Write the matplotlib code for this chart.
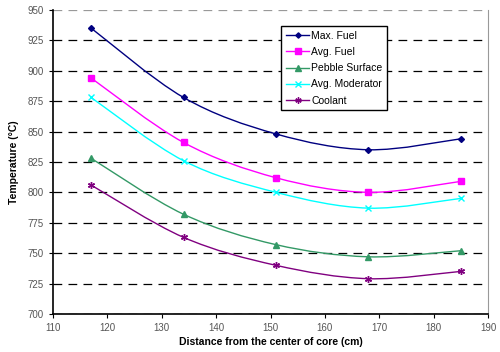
import matplotlib
matplotlib.use("Agg")
import matplotlib.pyplot as plt
from matplotlib.path import Path
from matplotlib.patches import PathPatch
from matplotlib.lines import Line2D

plt.rcParams['font.family'] = ['Liberation Sans', 'DejaVu Sans']

# veriler
mesafe = [117, 134, 151, 168, 185]
max_fuel = [935, 878, 848, 835, 844]
avg_fuel = [894, 841, 812, 800, 809]
pebble = [828, 782, 757, 747, 752]
avg_mod = [878, 826, 800, 787, 795]
coolant = [806, 763, 740, 729, 735]

seriler = [
    ("Max. Fuel", max_fuel, "#000080", "D", 3),
    ("Avg. Fuel", avg_fuel, "#FF00FF", "s", 4.2),
    ("Pebble Surface", pebble, "#339966", "^", 4.2),
    ("Avg. Moderator", avg_mod, "#00FFFF", "x", 4.2),
    ("Coolant", coolant, "#800080", (6, 2, 0), 5),
]


def yumusak_yol(x, y):
    # excel tarzı yumuşatılmış çizgi (bezier)
    n = len(x)
    px = [x[0]] + list(x) + [x[-1]]
    py = [y[0]] + list(y) + [y[-1]]
    verts = [(x[0], y[0])]
    codes = [Path.MOVETO]
    for i in range(1, n):
        c1 = (px[i] + (px[i + 1] - px[i - 1]) / 6, py[i] + (py[i + 1] - py[i - 1]) / 6)
        c2 = (px[i + 1] - (px[i + 2] - px[i]) / 6, py[i + 1] - (py[i + 2] - py[i]) / 6)
        verts += [c1, c2, (px[i + 1], py[i + 1])]
        codes += [Path.CURVE4] * 3
    return Path(verts, codes)


fig = plt.figure(figsize=(5, 3.52), dpi=100)
ax = fig.add_axes([0.106, 0.108, 0.87, 0.864])

for ad, deger, renk, isaret, boy in seriler:
    ax.add_patch(PathPatch(yumusak_yol(mesafe, deger), facecolor="none", edgecolor=renk, lw=1.0))
    ax.plot(mesafe, deger, linestyle="none", marker=isaret, color=renk, markersize=boy,
            markeredgewidth=1.0)

ax.set_xlim(110, 190)
ax.set_ylim(700, 950)
ax.set_xticks(range(110, 191, 10))
ax.set_yticks(range(700, 951, 25))
ax.yaxis.grid(True, color="black", linestyle=(0, (7, 5)), linewidth=0.9)
ax.get_ygridlines()[-1].set_color("#999999")
ax.set_axisbelow(True)
ax.spines["top"].set_visible(False)
ax.spines["right"].set_color("#999999")
ax.spines["left"].set_linewidth(1.2)
ax.spines["bottom"].set_linewidth(1.2)
ax.tick_params(labelsize=7, colors="black", labelcolor="#555555", length=3, width=0.8)
ax.set_xlabel("Distance from the center of core (cm)", fontsize=7.5, fontweight="bold", labelpad=3)
ax.set_ylabel("Temperature (\u00b0C)", fontsize=7.5, fontweight="bold", labelpad=6)

tutamaclar = [Line2D([0], [0], color=r, marker=m, markersize=b * 0.9, lw=1.0)
              for _, _, r, m, b in seriler]
leg = ax.legend(tutamaclar, [s[0] for s in seriler], loc="upper left",
                bbox_to_anchor=(0.525, 0.947), fontsize=7.5, frameon=True, fancybox=False,
                handlelength=2.2, handletextpad=0.2, borderpad=0.45, labelspacing=0.6,
                borderaxespad=0)
leg.get_frame().set_edgecolor("black")
leg.get_frame().set_linewidth(1.0)
leg.get_frame().set_alpha(1)

fig.savefig("out.png", dpi=100)
